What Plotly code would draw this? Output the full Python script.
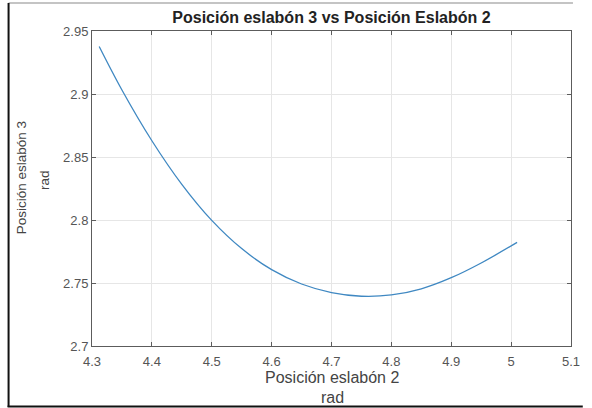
import plotly.graph_objects as go

# Data
theta2 = [4.312, 4.350, 4.400, 4.450, 4.500, 4.550, 4.600, 4.650, 4.700, 4.750,
          4.800, 4.850, 4.900, 4.950, 5.010]
theta3 = [2.9377, 2.9032, 2.8629, 2.8283, 2.7997, 2.7773, 2.7606, 2.7492, 2.7424, 2.7395,
          2.7405, 2.7454, 2.7542, 2.7659, 2.7822]

x_ticks = [4.3, 4.4, 4.5, 4.6, 4.7, 4.8, 4.9, 5.0, 5.1]
x_tick_text = ["4.3", "4.4", "4.5", "4.6", "4.7", "4.8", "4.9", "5", "5.1"]
y_ticks = [2.7, 2.75, 2.8, 2.85, 2.9, 2.95]
y_tick_text = ["2.7", "2.75", "2.8", "2.85", "2.9", "2.95"]

title_text = "<b>Posición eslabón 3 vs Posición Eslabón 2</b>"
x_label = ["Posición eslabón 2", "rad"]
y_label = ["Posición eslabón 3", "rad"]

W, H = 592, 408
L, R, T, B = 92, 12, 31, 62
pw, ph = W - L - R, H - T - B


def px(xp):
    return (xp - L) / pw


def py(yp):
    return (H - B - yp) / ph


FONT = "Arial, Liberation Sans, sans-serif"

fig = go.Figure()
fig.add_trace(go.Scatter(
    x=theta2, y=theta3, mode="lines",
    line=dict(color="#3f88c2", width=1.3, shape="spline", smoothing=1.0),
    hoverinfo="skip", showlegend=False,
))

axis_common = dict(
    showline=True, linecolor="#5c5c5c", linewidth=1, mirror="ticks",
    ticks="inside", ticklen=4, tickcolor="#5c5c5c", tickwidth=1,
    showgrid=True, gridcolor="#e6e6e6", gridwidth=1, zeroline=False,
    tickfont=dict(family=FONT, size=13, color="#555555"),
)

fig.update_xaxes(range=[4.3, 5.1], tickvals=x_ticks, ticktext=x_tick_text,
                 ticklabelstandoff=3, **axis_common)
fig.update_yaxes(range=[2.7, 2.95], tickvals=y_ticks, ticktext=y_tick_text, **axis_common)

annotations = [
    dict(text=x_label[0], x=px(337), y=py(377), xref="paper", yref="paper",
         showarrow=False, xanchor="center", yanchor="middle",
         font=dict(family=FONT, size=16, color="#444444")),
    dict(text=x_label[1], x=px(337), y=py(397), xref="paper", yref="paper",
         showarrow=False, xanchor="center", yanchor="middle",
         font=dict(family=FONT, size=16, color="#444444")),
    dict(text=y_label[0], x=px(20), y=py(178), xref="paper", yref="paper",
         showarrow=False, xanchor="center", yanchor="middle", textangle=-90,
         font=dict(family=FONT, size=13.5, color="#444444")),
    dict(text=y_label[1], x=px(43), y=py(180), xref="paper", yref="paper",
         showarrow=False, xanchor="center", yanchor="middle", textangle=-90,
         font=dict(family=FONT, size=13.5, color="#444444")),
]

shapes = [
    dict(type="line", xref="paper", yref="paper", x0=px(7), x1=px(582), y0=py(3), y1=py(3),
         line=dict(color="#b0b0b0", width=1.5)),
    dict(type="line", xref="paper", yref="paper", x0=px(7), x1=px(7), y0=py(3), y1=py(407),
         line=dict(color="#111111", width=2)),
    dict(type="line", xref="paper", yref="paper", x0=px(6), x1=px(592), y0=py(406.5), y1=py(406.5),
         line=dict(color="#111111", width=2)),
]

fig.update_layout(
    width=W, height=H,
    margin=dict(l=L, r=R, t=T, b=B),
    paper_bgcolor="white", plot_bgcolor="white",
    title=dict(text=title_text, x=px(336), xref="paper", xanchor="center",
               y=1 - 17 / H, yref="container", yanchor="middle",
               font=dict(family=FONT, size=16, color="#222222")),
    annotations=annotations, shapes=shapes,
)

fig.write_html("out.html")
